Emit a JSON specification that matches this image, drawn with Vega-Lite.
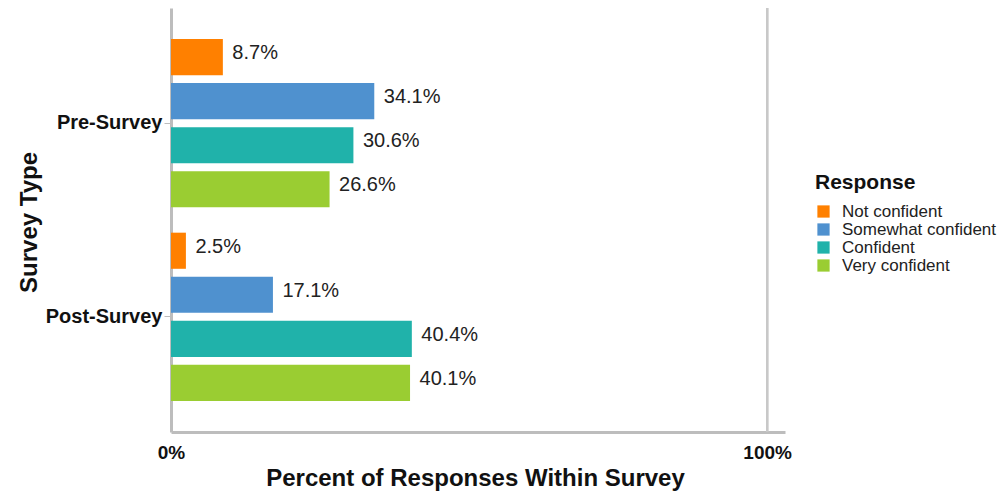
{
  "$schema": "https://vega.github.io/schema/vega-lite/v6.json",
  "width": 614,
  "height": 424,
  "autosize": {"type": "none"},
  "padding": {"left": 171, "top": 8, "right": 215, "bottom": 64},
  "background": "white",
  "config": {
    "font": "Liberation Sans",
    "view": {"stroke": null}
  },
  "data": {
    "values": [
      {"survey": "Pre-Survey", "response": "Not confident", "pct": 8.7, "label": "8.7%"},
      {"survey": "Pre-Survey", "response": "Somewhat confident", "pct": 34.1, "label": "34.1%"},
      {"survey": "Pre-Survey", "response": "Confident", "pct": 30.6, "label": "30.6%"},
      {"survey": "Pre-Survey", "response": "Very confident", "pct": 26.6, "label": "26.6%"},
      {"survey": "Post-Survey", "response": "Not confident", "pct": 2.5, "label": "2.5%"},
      {"survey": "Post-Survey", "response": "Somewhat confident", "pct": 17.1, "label": "17.1%"},
      {"survey": "Post-Survey", "response": "Confident", "pct": 40.4, "label": "40.4%"},
      {"survey": "Post-Survey", "response": "Very confident", "pct": 40.1, "label": "40.1%"}
    ]
  },
  "encoding": {
    "y": {
      "field": "survey", "type": "nominal", "sort": ["Pre-Survey", "Post-Survey"],
      "scale": {"paddingInner": 0.09, "paddingOuter": 0.14},
      "axis": {
        "title": "Survey Type", "titleFontSize": 24, "titleFontWeight": "bold", "titleColor": "#111",
        "titleX": -142, "titleY": 214, "titleAngle": -90, "titleBaseline": "middle", "titleAlign": "center",
        "labelFontSize": 20, "labelFontWeight": "bold", "labelColor": "#111", "labelPadding": 2,
        "domainColor": "#bdbdbd", "domainWidth": 3, "tickColor": "#bdbdbd", "tickSize": 7, "tickWidth": 1
      }
    },
    "yOffset": {
      "field": "response", "type": "nominal",
      "sort": ["Not confident", "Somewhat confident", "Confident", "Very confident"],
      "scale": {"paddingInner": 0.18, "paddingOuter": 0.09}
    },
    "x": {
      "field": "pct", "type": "quantitative",
      "scale": {"domain": [0, 103], "nice": false, "zero": true},
      "axis": {
        "values": [0, 100], "labelExpr": "datum.value + '%'",
        "title": "Percent of Responses Within Survey", "titleFontSize": 24, "titleFontWeight": "bold", "titleColor": "#111",
        "titleX": 304, "titleY": 46, "titleBaseline": "middle", "titleAlign": "center",
        "labelFontSize": 19, "labelFontWeight": "bold", "labelColor": "#111", "labelPadding": 11,
        "labelFlush": false,
        "ticks": false, "grid": false,
        "domainColor": "#bdbdbd", "domainWidth": 3
      }
    }
  },
  "layer": [
    {
      "mark": {"type": "rule", "color": "#c8c8c8", "strokeWidth": 2},
      "encoding": {"x": {"datum": 100}, "y": null, "yOffset": null}
    },
    {
      "mark": {"type": "bar"},
      "encoding": {
        "color": {
          "field": "response", "type": "nominal",
          "sort": ["Not confident", "Somewhat confident", "Confident", "Very confident"],
          "scale": {
            "domain": ["Not confident", "Somewhat confident", "Confident", "Very confident"],
            "range": ["#FF8000", "#4F91CF", "#20B2AA", "#9ACD32"]
          },
          "legend": {
            "title": "Response", "orient": "none", "legendX": 644, "legendY": 164,
            "titleFontSize": 21, "titleFontWeight": "bold", "titleColor": "#111", "titlePadding": 10,
            "labelFontSize": 17, "labelColor": "#222", "labelOffset": 10,
            "symbolType": "square", "symbolSize": 150, "symbolStrokeWidth": 0,
            "rowPadding": 0
          }
        }
      }
    },
    {
      "mark": {"type": "text", "align": "left", "baseline": "middle", "dx": 9.5, "dy": -4, "fontSize": 20, "color": "#222"},
      "encoding": {"text": {"field": "label"}}
    }
  ]
}
